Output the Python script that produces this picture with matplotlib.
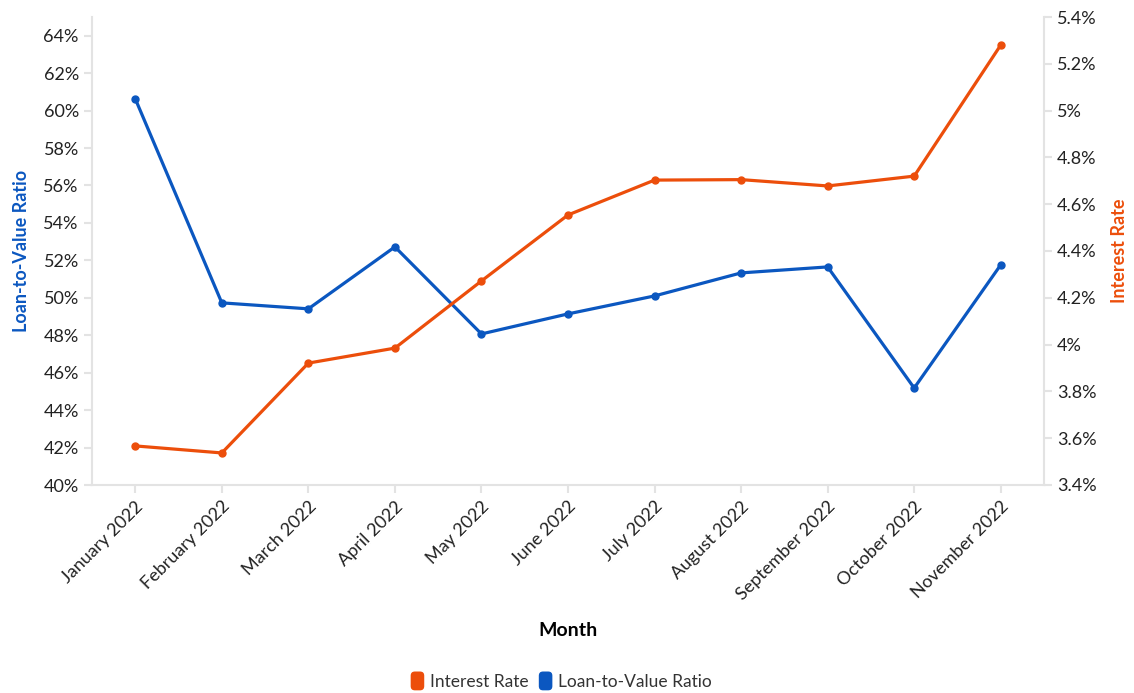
import matplotlib
matplotlib.use("Agg")
import matplotlib.pyplot as plt
from matplotlib.ticker import FuncFormatter, MultipleLocator
from matplotlib.patches import FancyBboxPatch
from matplotlib.legend_handler import HandlerPatch
import matplotlib.patches as mpatches

plt.rcParams['font.family'] = ['Lato', 'DejaVu Sans']

months = ["January 2022", "February 2022", "March 2022", "April 2022", "May 2022",
          "June 2022", "July 2022", "August 2022", "September 2022", "October 2022",
          "November 2022"]
ltv = [60.63, 49.73, 49.41, 52.72, 48.07, 49.14, 50.10, 51.33, 51.65, 45.18, 51.76]
interest = [3.567, 3.537, 3.921, 3.985, 4.272, 4.554, 4.703, 4.705, 4.678, 4.72, 5.28]

BLUE = "#0B57C0"
ORANGE = "#EC4E0B"
GRAY = "#e3e3e3"
TXT = "#222222"

fig = plt.figure(figsize=(11.34, 6.93), dpi=100)
ax = fig.add_axes([92/1134, 1-485/693, (1044-92)/1134, (485-17)/693])
ax2 = ax.twinx()

x = list(range(len(months)))
ax.plot(x, ltv, color=BLUE, lw=2.3, marker='o', ms=5, zorder=3)
ax2.plot(x, interest, color=ORANGE, lw=2.3, marker='o', ms=5, zorder=3)

ax.set_xlim(-0.5, len(months)-0.5)
ax.set_ylim(40, 65)
ax2.set_ylim(3.4, 5.4)
ax.yaxis.set_major_locator(MultipleLocator(2))
ax2.yaxis.set_major_locator(MultipleLocator(0.2))
ax.yaxis.set_major_formatter(FuncFormatter(lambda v, p: f"{v:.0f}%"))
def rfmt(v, p):
    s = f"{v:.1f}"
    if s.endswith(".0"):
        s = s[:-2]
    return s + "%"
ax2.yaxis.set_major_formatter(FuncFormatter(rfmt))

ax.set_xticks(x)
ax.set_xticklabels(months, rotation=45, ha='right', rotation_mode='anchor')

for a in (ax, ax2):
    for s in a.spines.values():
        s.set_color(GRAY)
        s.set_linewidth(1.5)
    a.spines['top'].set_visible(False)
    a.tick_params(colors=GRAY, labelcolor=TXT, labelsize=13, length=6, width=1.5)
ax2.spines['left'].set_visible(False)
ax.spines['right'].set_visible(False)
ax2.spines['bottom'].set_visible(False)

ax.set_ylabel("Loan-to-Value Ratio", color=BLUE, fontsize=13, fontweight='bold', labelpad=10)
ax2.set_ylabel("Interest Rate", color=ORANGE, fontsize=13, fontweight='bold', rotation=90, labelpad=10)
ax.set_xlabel("Month", fontsize=14, fontweight='bold', color='black', labelpad=14)


class RoundHandler(HandlerPatch):
    def create_artists(self, legend, orig_handle, xdescent, ydescent, width, height, fontsize, trans):
        h = height * 1.55
        w = h * 0.72
        p = FancyBboxPatch((width/2 - w/2 - xdescent, height/2 - h/2 - ydescent), w, h,
                           boxstyle="round,pad=0,rounding_size=3",
                           facecolor=orig_handle.get_facecolor(), edgecolor='none', transform=trans)
        return [p]

handles = [mpatches.Patch(color=ORANGE), mpatches.Patch(color=BLUE)]
fig.legend(handles, ["Interest Rate", "Loan-to-Value Ratio"], loc='center', bbox_to_anchor=(561/1134, 1-682/693),
           ncol=2, frameon=False, fontsize=12.5, handlelength=0.8, handletextpad=0.3, columnspacing=0.6,
           labelcolor='#333333', handler_map={mpatches.Patch: RoundHandler()})

fig.savefig("out.png", dpi=100)
